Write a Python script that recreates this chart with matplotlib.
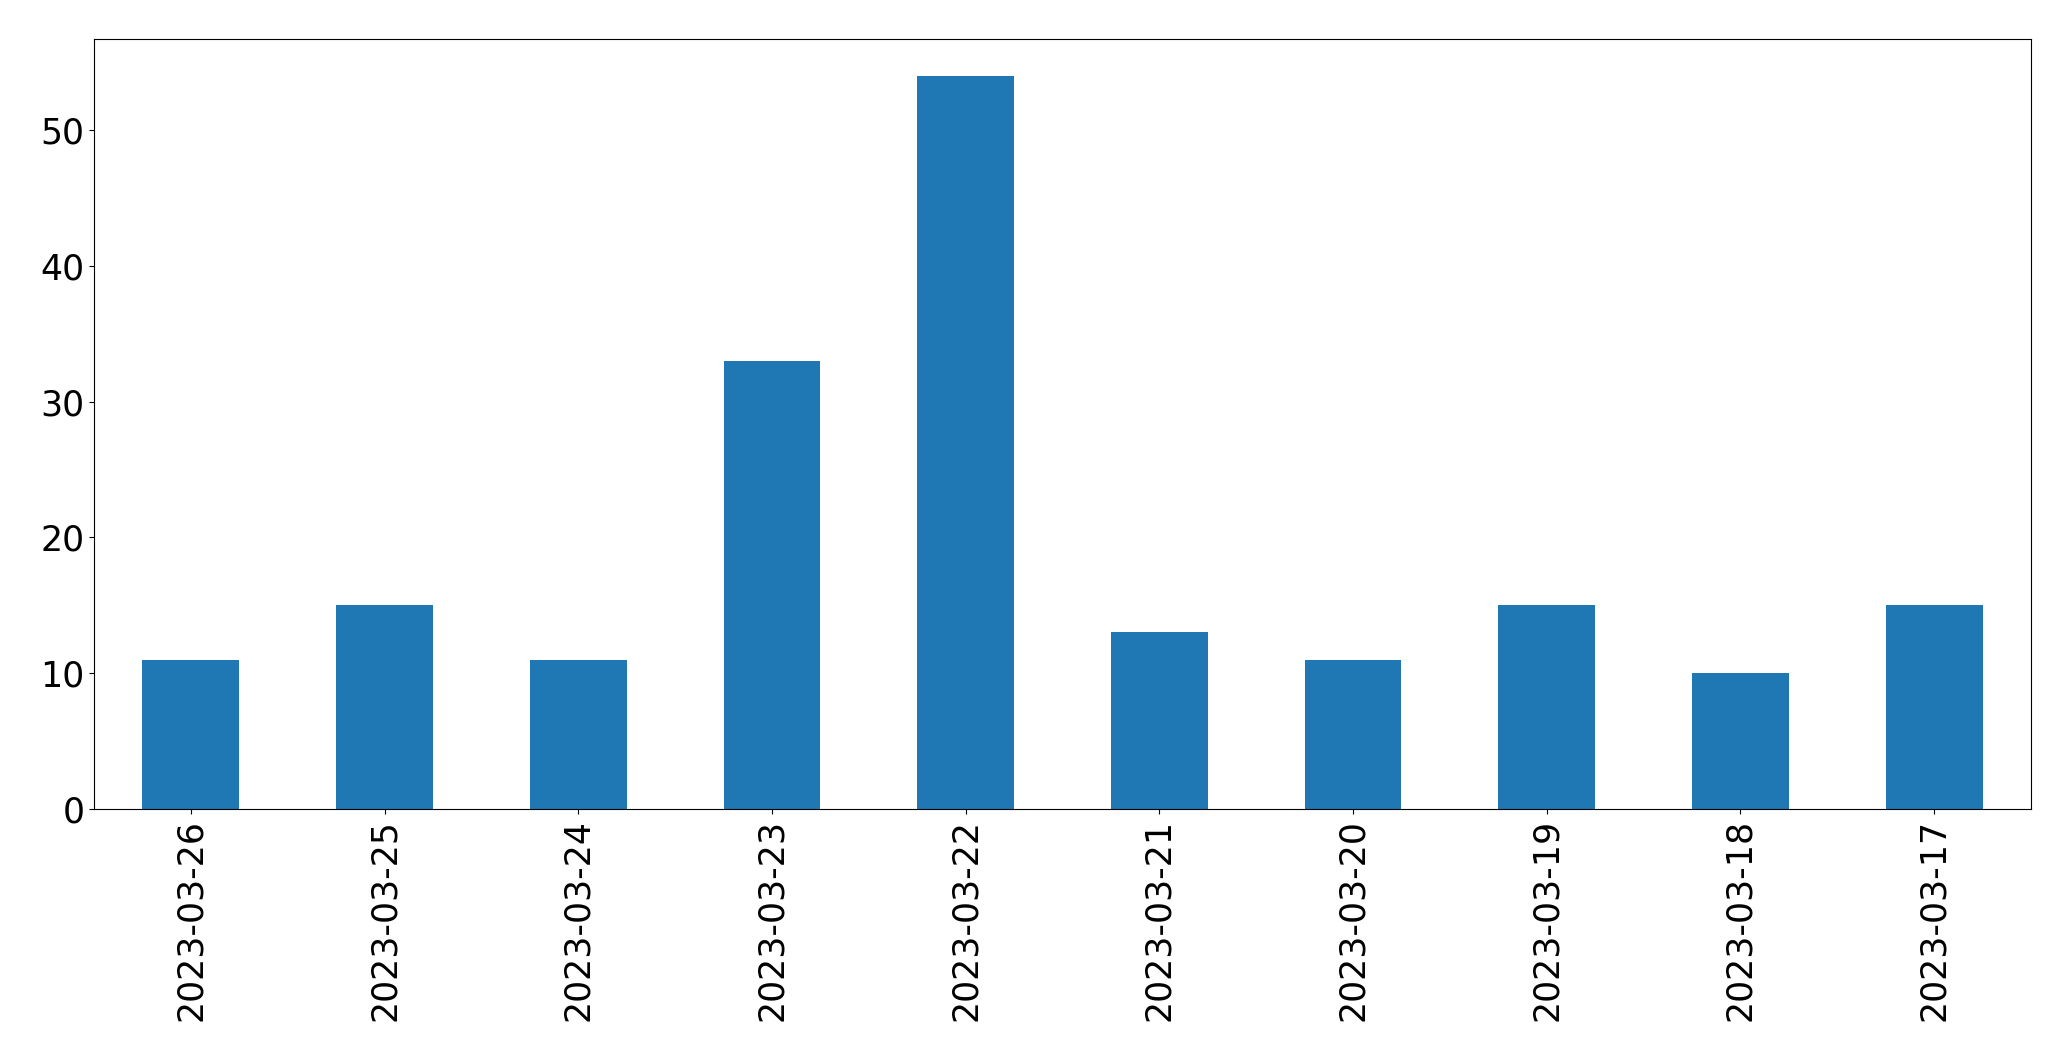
import matplotlib
matplotlib.use("Agg")
import matplotlib.pyplot as plt
import pandas as pd

dates = ["2023-03-26", "2023-03-25", "2023-03-24", "2023-03-23", "2023-03-22",
         "2023-03-21", "2023-03-20", "2023-03-19", "2023-03-18", "2023-03-17"]
counts = [11, 15, 11, 33, 54, 13, 11, 15, 10, 15]

s = pd.Series(counts, index=dates)

fig = plt.figure(figsize=(20.71, 10.61), dpi=100)
ax = fig.add_axes([94 / 2071, 1 - 809 / 1061, (2031 - 94) / 2071, (809 - 39) / 1061])
s.plot(kind="bar", ax=ax, color="#1f77b4")
ax.tick_params(labelsize=25)

fig.savefig("out.png", dpi=100)
